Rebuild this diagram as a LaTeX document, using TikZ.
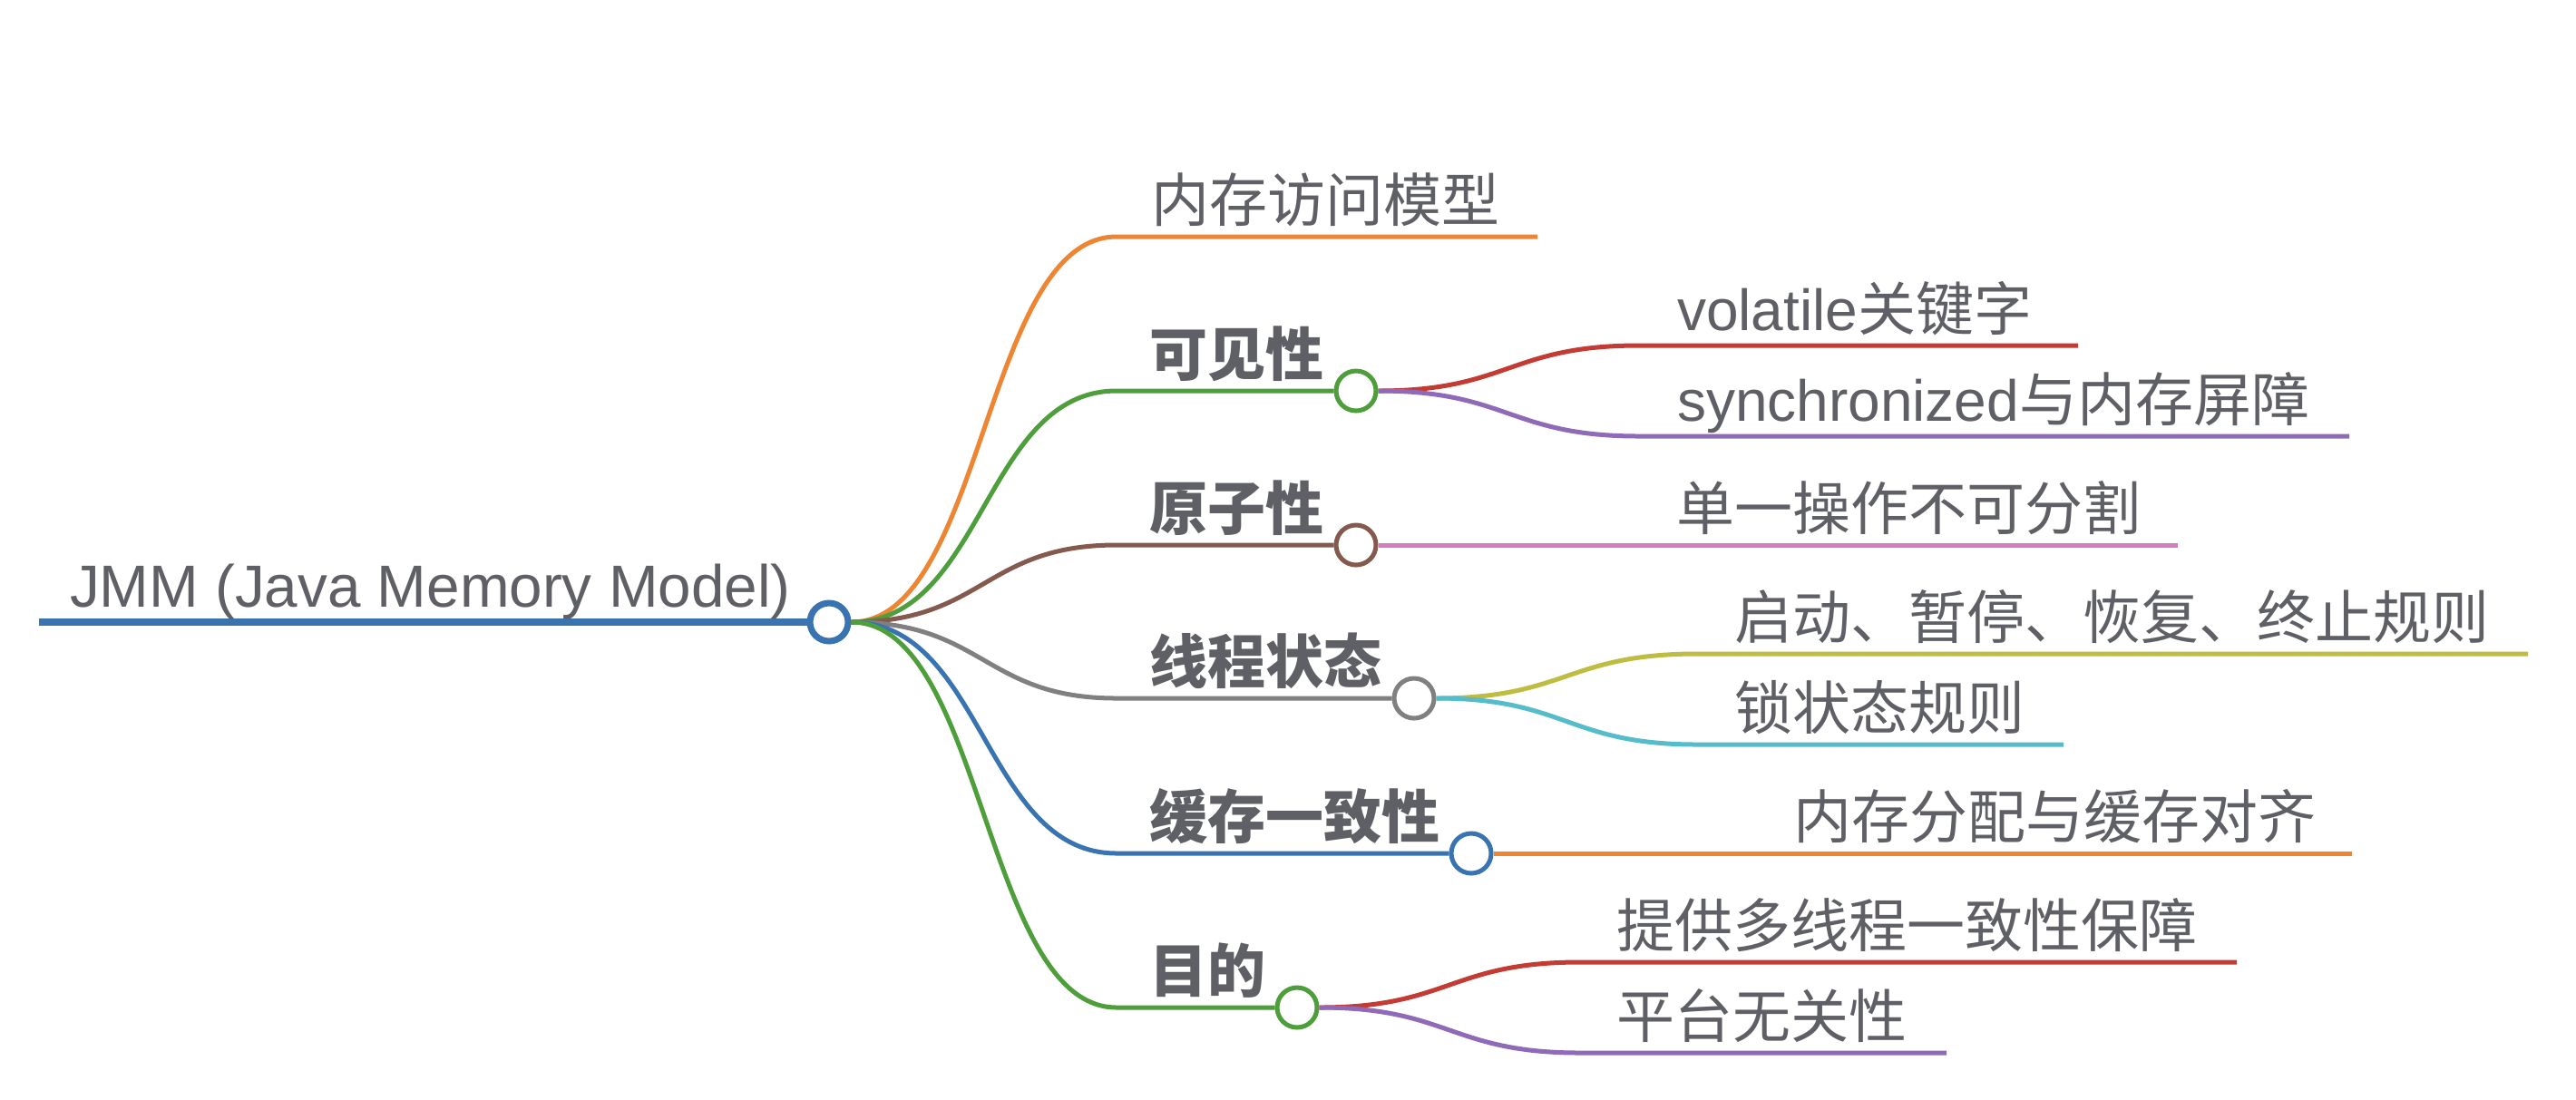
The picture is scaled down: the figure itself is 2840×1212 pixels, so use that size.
\documentclass[tikz,border=0pt]{standalone}
\usepackage{fontspec}
\setmainfont{Liberation Sans}
\newfontfamily\cjk{Noto Sans CJK SC}
\definecolor{cblue}{HTML}{3A74B0}
\definecolor{corange}{HTML}{EE8532}
\definecolor{cgreen}{HTML}{4E9E3C}
\definecolor{cred}{HTML}{C43B33}
\definecolor{cpurple}{HTML}{8E6AB8}
\definecolor{cbrown}{HTML}{845A4E}
\definecolor{cpink}{HTML}{D67BBE}
\definecolor{cgray}{HTML}{808080}
\definecolor{colive}{HTML}{BEBD42}
\definecolor{ccyan}{HTML}{56BBCB}
\definecolor{ctext}{HTML}{5F6065}
\tikzset{
  lbl/.style={anchor=base west, inner sep=0pt, outer sep=0pt, text=ctext, font=\fontsize{32}{38}\selectfont},
  rootlbl/.style={lbl, font=\fontsize{32.8}{38}\selectfont},
  blbl/.style={lbl, font=\fontsize{32}{38}\selectfont\cjk\bfseries},
  dot/.style={circle, draw, line width=2.5pt, fill=white, inner sep=0pt, minimum size=22pt},
  rootdot/.style={dot, line width=3.5pt, minimum size=21pt},
  link/.style={line width=2.5pt},
  rootlink/.style={line width=4pt}
}
\begin{document}
\begin{tikzpicture}[x=0.5pt,y=-0.5pt]
\fill[white] (0,0) rectangle (2840,1212);
\useasboundingbox (0,0) rectangle (2840,1212);

% branch dots
\node[rootdot, draw=cblue] (root) at (914,686) {};
\node[dot, draw=cgreen] (n2) at (1495,431) {};
\node[dot, draw=cbrown] (n3) at (1495,601) {};
\node[dot, draw=cgray] (n4) at (1559,770) {};
\node[dot, draw=cblue] (n5) at (1622,941) {};
\node[dot, draw=cgreen] (n6) at (1430,1111) {};

% line end points
\coordinate (r0) at (43,686);
\coordinate (b1s) at (1231,261);  \coordinate (b1e) at (1695,261);
\coordinate (b2s) at (1231,431);
\coordinate (b3s) at (1231,601);
\coordinate (b4s) at (1231,770);
\coordinate (b5s) at (1231,941);
\coordinate (b6s) at (1231,1111);
\coordinate (c21s) at (1807,381); \coordinate (c21e) at (2291,381);
\coordinate (c22s) at (1807,481); \coordinate (c22e) at (2590,481);
\coordinate (c31e) at (2401,601);
\coordinate (c41s) at (1871,721); \coordinate (c41e) at (2787,721);
\coordinate (c42s) at (1871,821); \coordinate (c42e) at (2275,821);
\coordinate (c51e) at (2593,941);
\coordinate (c61s) at (1742,1061); \coordinate (c61e) at (2466,1061);
\coordinate (c62s) at (1742,1161); \coordinate (c62e) at (2146,1161);

% root
\draw[rootlink, cblue] (r0) -- (root.west);

% level 1 links
\draw[link, corange] (root.east) .. controls +(146,0) and +(-146,0) .. (b1s) -- (b1e);
\draw[link, cgreen] (root.east) .. controls +(146,0) and +(-146,0) .. (b2s) -- (n2.west);
\draw[link, cbrown] (root.east) .. controls +(146,0) and +(-146,0) .. (b3s) -- (n3.west);
\draw[link, cgray] (root.east) .. controls +(146,0) and +(-146,0) .. (b4s) -- (n4.west);
\draw[link, cblue] (root.east) .. controls +(146,0) and +(-146,0) .. (b5s) -- (n5.west);
\draw[link, cgreen] (root.east) .. controls +(146,0) and +(-146,0) .. (b6s) -- (n6.west);

% level 2 links
\draw[link, cred] (n2.east) .. controls +(143,0) and +(-143,0) .. (c21s) -- (c21e);
\draw[link, cpurple] (n2.east) .. controls +(143,0) and +(-143,0) .. (c22s) -- (c22e);
\draw[link, cpink] (n3.east) -- (c31e);
\draw[link, colive] (n4.east) .. controls +(143,0) and +(-143,0) .. (c41s) -- (c41e);
\draw[link, ccyan] (n4.east) .. controls +(143,0) and +(-143,0) .. (c42s) -- (c42e);
\draw[link, corange] (n5.east) -- (c51e);
\draw[link, cred] (n6.east) .. controls +(143,0) and +(-143,0) .. (c61s) -- (c61e);
\draw[link, cpurple] (n6.east) .. controls +(143,0) and +(-143,0) .. (c62s) -- (c62e);

% labels
\node[rootlbl] (t0) at (77,669) {JMM (Java Memory Model)};
\node[lbl] (t1) at (1269,244) {\cjk 内存访问模型};
\node[blbl] (t2) at (1267,414) {可见性};
\node[blbl] (t3) at (1267,584) {原子性};
\node[blbl] (t4) at (1267,753) {线程状态};
\node[blbl] (t5) at (1267,924) {缓存一致性};
\node[blbl] (t6) at (1267,1094) {目的};
\node[lbl] (t21) at (1849,364) {volatile{\cjk 关键字}};
\node[lbl] (t22) at (1849,464) {synchronized{\cjk 与内存屏障}};
\node[lbl] (t31) at (1848,584) {\cjk 单一操作不可分割};
\node[lbl] (t41) at (1912,704) {\cjk 启动、暂停、恢复、终止规则};
\node[lbl] (t42) at (1912,804) {\cjk 锁状态规则};
\node[lbl] (t51) at (1977,924) {\cjk 内存分配与缓存对齐};
\node[lbl] (t61) at (1782,1044) {\cjk 提供多线程一致性保障};
\node[lbl] (t62) at (1782,1144) {\cjk 平台无关性};
\end{tikzpicture}
\end{document}
